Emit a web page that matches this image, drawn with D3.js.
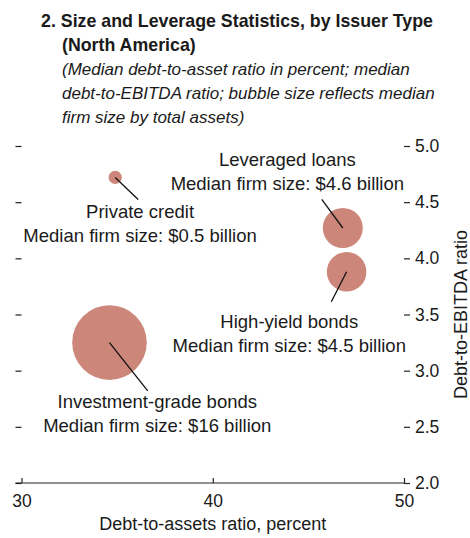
<!DOCTYPE html>
<html>
<head>
<meta charset="utf-8">
<script src="https://cdn.jsdelivr.net/npm/d3@7"></script>
<style>
  body { margin: 0; background: #fff; }
  svg { display: block; font-family: "Liberation Sans", Arial, sans-serif; fill: #1a1a1a; }
</style>
</head>
<body>
<div id="app"></div>
<script>
// data
const categories = ['Private credit', 'Leveraged loans', 'High-yield bonds', 'Investment-grade bonds']
const debtToAssets = [34.9, 46.8, 47.0, 34.6]
const debtToEbitda = [4.72, 4.27, 3.88, 3.25]
const firmSize = [0.5, 4.6, 4.5, 16]
const sizeLabels = ['$0.5 billion', '$4.6 billion', '$4.5 billion', '$16 billion']

const xTicks = [30, 40, 50]
const yTicks = [2.0, 2.5, 3.0, 3.5, 4.0, 4.5, 5.0]

// where the labels and leader lines sit (data units)
const labelAt = [[36.2, 4.355], [43.9, 4.82], [44.0, 3.376], [37.1, 2.665]]
const leaderTo = [[36.1, 4.524], [45.7, 4.524], [46.2, 3.613], [36.6, 2.82]]

const W = 470, H = 538
const svg = d3.select('#app').append('svg')
    .attr('width', W)
    .attr('height', H)

const x = d3.scaleLinear().domain([30, 50]).range([21.5, 404])
const y = d3.scaleLinear().domain([2, 5]).range([483, 146])
const r = d3.scaleSqrt().domain([0, 16]).range([0, 37.3])

// title block
const title = svg.append('g').attr('transform', 'translate(41,0)')
title.append('text')
    .attr('x', 0).attr('y', 27)
    .style('font-weight', 'bold').style('font-size', '17.8px')
    .text('2. Size and Leverage Statistics, by Issuer Type')
title.append('text')
    .attr('x', 21).attr('y', 51)
    .style('font-weight', 'bold').style('font-size', '17.8px')
    .text('(North America)')
const sub = ['(Median debt-to-asset ratio in percent; median',
    'debt-to-EBITDA ratio; bubble size reflects median',
    'firm size by total assets)']
title.selectAll('text.sub')
    .data(sub)
    .enter().append('text')
    .attr('class', 'sub')
    .attr('x', 21)
    .attr('y', (d, i) => 75 + i * 24)
    .style('font-style', 'italic').style('font-size', '17px')
    .text(d => d)

// axes
const leftAxis = d3.axisLeft(y).tickValues(yTicks).tickSize(6).tickFormat('')
svg.append('g')
    .attr('transform', 'translate(' + x(30) + ',0)')
    .call(leftAxis)
    .call(g => g.select('.domain').remove())

const rightAxis = d3.axisRight(y).tickValues(yTicks).tickSize(6).tickPadding(5)
    .tickFormat(d3.format('.1f'))
svg.append('g')
    .attr('transform', 'translate(' + x(50) + ',0)')
    .call(rightAxis)
    .call(g => g.select('.domain').remove())
    .call(g => g.selectAll('text').style('font-size', '17.5px').attr('font-family', null).attr('fill', '#1a1a1a'))

const bottomAxis = d3.axisBottom(x).tickValues(xTicks).tickSizeInner(-5).tickSizeOuter(0).tickPadding(12)
svg.append('g')
    .attr('transform', 'translate(0,' + y(2) + ')')
    .call(bottomAxis)
    .call(g => g.select('.domain').attr('d', 'M' + (x(30) - 6) + ',0H' + x(50)))
    .call(g => g.selectAll('text').style('font-size', '17.5px').attr('font-family', null).attr('fill', '#1a1a1a'))

svg.selectAll('.tick line, .domain').attr('stroke', '#222').attr('stroke-width', 1.2)

svg.append('text')
    .attr('x', (x(30) + x(50)) / 2)
    .attr('y', 530)
    .attr('text-anchor', 'middle')
    .style('font-size', '18px')
    .text('Debt-to-assets ratio, percent')

svg.append('text')
    .attr('transform', 'translate(467,' + (y(2) + y(5)) / 2 + ') rotate(-90)')
    .attr('text-anchor', 'middle')
    .style('font-size', '18px')
    .text('Debt-to-EBITDA ratio')

// bubbles
svg.append('g').selectAll('circle')
    .data(categories)
    .enter().append('circle')
    .attr('cx', (d, i) => x(debtToAssets[i]))
    .attr('cy', (d, i) => y(debtToEbitda[i]))
    .attr('r', (d, i) => r(firmSize[i]))
    .attr('fill', '#cd877a')

// leader lines
svg.append('g').selectAll('line')
    .data(categories)
    .enter().append('line')
    .attr('x1', (d, i) => x(debtToAssets[i]))
    .attr('y1', (d, i) => y(debtToEbitda[i]))
    .attr('x2', (d, i) => x(leaderTo[i][0]))
    .attr('y2', (d, i) => y(leaderTo[i][1]))
    .attr('stroke', '#111')
    .attr('stroke-width', 1.3)

// labels
const labels = svg.append('g').selectAll('text')
    .data(categories)
    .enter().append('text')
    .attr('text-anchor', 'middle')
    .style('font-size', '18.5px')
    .attr('x', (d, i) => x(labelAt[i][0]))
    .attr('y', (d, i) => y(labelAt[i][1]))
labels.append('tspan')
    .text(d => d)
labels.append('tspan')
    .attr('x', (d, i) => x(labelAt[i][0]))
    .attr('dy', 23.5)
    .text((d, i) => 'Median firm size: ' + sizeLabels[i])
</script>
</body>
</html>
